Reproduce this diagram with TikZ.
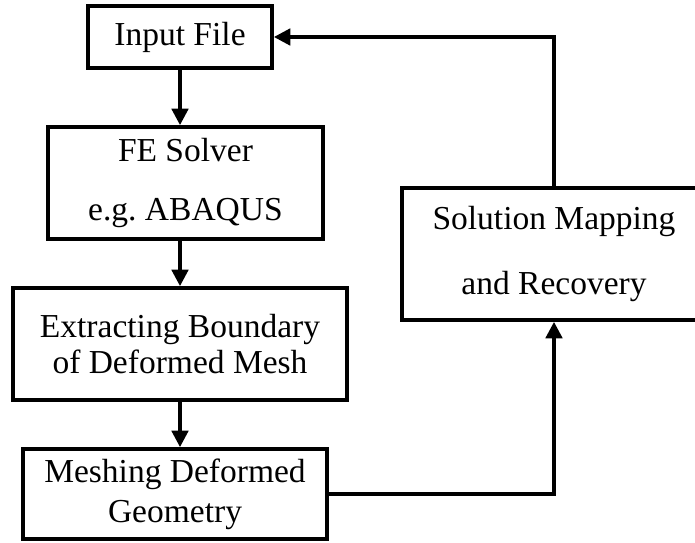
\documentclass[tikz,border=0pt]{standalone}
\usepackage{fontspec}
\setmainfont{Liberation Serif}
\usetikzlibrary{arrows.meta}
\begin{document}
\begin{tikzpicture}[x=0.03cm,y=-0.03cm,
    box/.style={draw,line width=3.2pt,inner sep=0pt,align=center,
      font=\fontsize{28.6}{31}\selectfont},
    flow/.style={line width=3pt,-{Triangle[length=14pt,width=14pt]}}]
  \useasboundingbox (0,0) rectangle (695,543);
  \node[box,minimum width=5.52cm,minimum height=1.86cm] (inp) at (180,37) {Input File};
  \node[box,minimum width=8.25cm,minimum height=3.36cm] (fe) at (185.5,183) {FE Solver\\[19pt]e.g.\ ABAQUS};
  \node[box,minimum width=10.02cm,minimum height=3.36cm] (ext) at (180,344) {Extracting Boundary\\of Deformed Mesh};
  \node[box,minimum width=9.12cm,minimum height=2.7cm] (mesh) at (175,494) {Meshing Deformed\\[3pt]Geometry};
  \node[box,minimum width=9.12cm,minimum height=3.96cm] (sol) at (554,254) {Solution Mapping\\[24pt]and Recovery};
  \draw[flow] (inp.south) -- (inp.south |- fe.north);
  \draw[flow] (fe.south -| inp.south) -- (ext.north);
  \draw[flow] (ext.south) -- (ext.south |- mesh.north);
  \draw[flow] (mesh.east) -| (sol.south);
  \draw[flow] (sol.north) |- (inp.east);
\end{tikzpicture}
\end{document}
